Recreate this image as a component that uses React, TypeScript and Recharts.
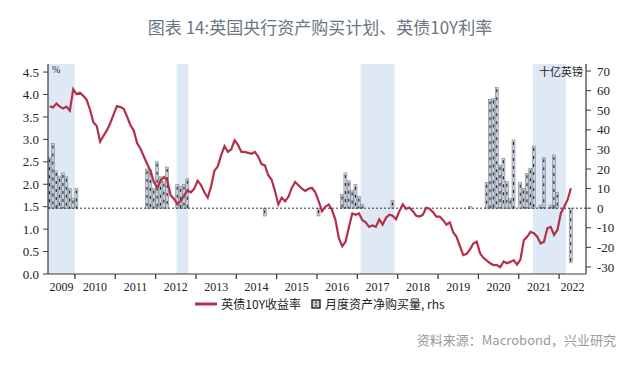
import React from "react";
import { ComposedChart, Line, Bar, XAxis, YAxis, ReferenceArea, ReferenceLine } from "recharts";

// ---- data ----
const startYear = 2009;
const startMonth = 5; // first month shown: May 2009

// UK 10Y gilt yield, monthly, May 2009 .. Apr 2022 (%)
const yields2009 = [3.74, 3.71, 3.8, 3.73, 3.69, 3.73, 3.64, 4.12];
const yields2010 = [4.01, 4.04, 3.97, 3.88, 3.66, 3.38, 3.3, 2.95, 3.08, 3.2, 3.36, 3.55];
const yields2011 = [3.74, 3.72, 3.68, 3.51, 3.32, 3.2, 2.92, 2.79, 2.62, 2.45, 2.3, 2.05];
const yields2012 = [1.92, 2.08, 2.16, 2.08, 1.75, 1.67, 1.56, 1.63, 1.75, 1.86, 1.82, 1.9];
const yields2013 = [2.08, 1.98, 1.82, 1.7, 1.95, 2.3, 2.4, 2.65, 2.85, 2.72, 2.78, 2.98];
const yields2014 = [2.88, 2.72, 2.72, 2.7, 2.68, 2.72, 2.62, 2.45, 2.42, 2.2, 2.1, 1.85];
const yields2015 = [1.55, 1.7, 1.62, 1.72, 1.92, 2.05, 1.98, 1.9, 1.85, 1.9, 1.92, 1.82];
const yields2016 = [1.62, 1.4, 1.5, 1.55, 1.42, 1.2, 0.8, 0.62, 0.72, 1.05, 1.35, 1.32];
const yields2017 = [1.35, 1.2, 1.15, 1.05, 1.08, 1.05, 1.22, 1.1, 1.25, 1.32, 1.3, 1.22];
const yields2018 = [1.4, 1.55, 1.45, 1.48, 1.4, 1.3, 1.28, 1.32, 1.48, 1.45, 1.38, 1.28];
const yields2019 = [1.28, 1.2, 1.1, 1.15, 0.93, 0.83, 0.62, 0.42, 0.45, 0.55, 0.68, 0.72];
const yields2020 = [0.46, 0.36, 0.3, 0.24, 0.2, 0.2, 0.15, 0.28, 0.24, 0.27, 0.31, 0.21];
const yields2021 = [0.32, 0.75, 0.83, 0.94, 0.91, 0.83, 0.68, 0.72, 1.02, 1.05, 0.87, 0.98];
const yields2022 = [1.35, 1.5, 1.65, 1.91];

// BoE monthly net asset purchases (GBP bn, rhs)
const purchaseMonths = [
  "2009-05", "2009-06", "2009-07", "2009-08", "2009-09", "2009-10", "2009-11", "2009-12", "2010-01",
  "2011-10", "2011-11", "2011-12", "2012-01", "2012-02", "2012-03", "2012-04",
  "2012-07", "2012-08", "2012-09", "2012-10",
  "2014-09", "2016-01",
  "2016-08", "2016-09", "2016-10", "2016-11", "2016-12", "2017-01", "2017-02", "2017-11",
  "2019-10",
  "2020-03", "2020-04", "2020-05", "2020-06", "2020-07", "2020-08", "2020-09", "2020-10", "2020-11",
  "2021-01", "2021-02", "2021-03", "2021-04", "2021-05", "2021-07", "2021-08", "2021-10", "2021-11", "2021-12",
  "2022-04",
];
const purchaseValues = [
  26, 33, 19, 16, 18, 16, 10, 5, 10,
  20, 19.5, 10, 23.7, 16, 13.5, 21,
  12, 11, 12, 15,
  -4, -4,
  7, 18, 14, 9, 12, 6, 2, 4,
  1,
  13, 55.6, 56, 61.7, 22, 25.5, 13.5, 5, 34.8,
  13, 10.1, 17.8, 20.4, 31.7, 1.6, 26, 1.6, 27.2, 7.9,
  -27.8,
];

const shadedPeriods: [number, number][] = [
  [2009.333, 2010.0],
  [2012.52, 2012.81],
  [2017.08, 2017.92],
  [2021.35, 2022.17],
];

const yearLabels = ["2009", "2010", "2011", "2012", "2013", "2014", "2015", "2016", "2017", "2018", "2019", "2020", "2021", "2022"];
const leftTicks = [0, 0.5, 1, 1.5, 2, 2.5, 3, 3.5, 4, 4.5];
const rightTicks = [-30, -20, -10, 0, 10, 20, 30, 40, 50, 60, 70];
const xDomain: [number, number] = [2009 + 4 / 12, 2022 + 8 / 12];
const leftDomain: [number, number] = [0, 4.68];
const rightDomain: [number, number] = [-33.6, 73.6];

const yields = [
  ...yields2009, ...yields2010, ...yields2011, ...yields2012, ...yields2013, ...yields2014, ...yields2015,
  ...yields2016, ...yields2017, ...yields2018, ...yields2019, ...yields2020, ...yields2021, ...yields2022,
];

const data = yields.map((v, i) => {
  const m = startMonth - 1 + i;
  const y = startYear + Math.floor(m / 12);
  const mo = (m % 12) + 1;
  const key = `${y}-${String(mo).padStart(2, "0")}`;
  const idx = purchaseMonths.indexOf(key);
  return { t: y + (mo - 0.5) / 12, yld: v, qe: idx >= 0 ? purchaseValues[idx] : null };
});

// year boundary ticks + mid-interval label positions
const tickMarks = yearLabels.slice(1).map((s) => Number(s));
const labelPos = yearLabels.map((s) => {
  const y = Number(s);
  const a = Math.max(y, xDomain[0]);
  const b = Math.min(y + 1, xDomain[1]);
  return (a + b) / 2;
});
const xTicks = [...tickMarks, ...labelPos].sort((a, b) => a - b);

const SERIF = "'Liberation Serif', 'Times New Roman', serif";
const CJK = "'Noto Sans CJK SC', 'Noto Sans', sans-serif";

const YearTick = (props: any) => {
  const { x, y, payload } = props;
  const v = payload.value as number;
  if (Number.isInteger(v)) {
    return <line x1={x} x2={x} y1={y} y2={y + 5} stroke="#3a3a3a" strokeWidth={1.3} />;
  }
  return (
    <text x={x} y={y + 17} textAnchor="middle" fontSize={12} fontFamily={SERIF} fill="#222">
      {Math.floor(v)}
    </text>
  );
};

const HatchBar = (props: any) => {
  const { x, y, width, height } = props;
  if (height == null || width == null || !isFinite(height) || height === 0) return null;
  const y0 = height < 0 ? y + height : y;
  const h = Math.abs(height);
  const cx = x + width / 2;
  return (
    <g>
      <rect x={x} y={y0} width={width} height={h} fill="#c8cfd8" stroke="#6a7381" strokeWidth={0.5} />
      <line x1={cx} x2={cx} y1={y0 + 2} y2={y0 + h} stroke="#1e2530" strokeWidth={1.1} strokeDasharray="3 5" />
    </g>
  );
};

export default function App() {
  return (
    <div style={{ position: "absolute", left: 0, top: 0, width: 640, height: 369, background: "#fff", overflow: "hidden" }}>
      <div
        style={{
          position: "absolute", left: 0, top: 15, width: 640, textAlign: "center",
          fontFamily: CJK, fontSize: 17, color: "#6b7684", lineHeight: "24px",
        }}
      >
        图表 14:英国央行资产购买计划、英债10Y利率
      </div>

      <div style={{ position: "absolute", left: 0, top: 0 }}>
        <ComposedChart
          width={640}
          height={300}
          data={data}
          margin={{ top: 64, right: 14, left: 8, bottom: 6 }}
        >
          {shadedPeriods.map(([a, b], i) => (
            <ReferenceArea key={i} x1={a} x2={b} yAxisId="left" fill="#dfe9f5" fillOpacity={1} stroke="none" ifOverflow="hidden" />
          ))}
          <XAxis
            dataKey="t"
            type="number"
            domain={xDomain}
            ticks={xTicks}
            interval={0}
            allowDataOverflow
            tick={<YearTick />}
            tickLine={false}
            tickSize={0}
            tickMargin={0}
            height={20}
            axisLine={{ stroke: "#3a3a3a", strokeWidth: 1.2 }}
          />
          <YAxis
            yAxisId="left"
            domain={leftDomain}
            ticks={leftTicks}
            interval={0}
            allowDataOverflow
            width={40}
            tickFormatter={(v: number) => v.toFixed(1)}
            tick={{ fontSize: 13, fontFamily: SERIF, fill: "#222" }}
            tickSize={5}
            tickMargin={4}
            tickLine={{ stroke: "#3a3a3a" }}
            axisLine={{ stroke: "#3a3a3a", strokeWidth: 1.2 }}
          />
          <YAxis
            yAxisId="right"
            orientation="right"
            domain={rightDomain}
            ticks={rightTicks}
            interval={0}
            allowDataOverflow
            width={40}
            tick={{ fontSize: 13, fontFamily: SERIF, fill: "#222" }}
            tickSize={5}
            tickMargin={6}
            tickLine={{ stroke: "#3a3a3a" }}
            axisLine={{ stroke: "#3a3a3a", strokeWidth: 1.2 }}
          />
          <ReferenceLine yAxisId="right" y={0} stroke="#333" strokeDasharray="2 2" strokeWidth={1} />
          <Bar yAxisId="right" dataKey="qe" barSize={3} shape={<HatchBar />} isAnimationActive={false} />
          <Line
            yAxisId="left"
            dataKey="yld"
            type="linear"
            stroke="#b3304a"
            strokeWidth={2.2}
            dot={false}
            isAnimationActive={false}
          />
        </ComposedChart>
      </div>

      <div style={{ position: "absolute", left: 52, top: 64, fontFamily: SERIF, fontSize: 10, color: "#222" }}>%</div>
      <div style={{ position: "absolute", right: 57, top: 63, fontFamily: CJK, fontSize: 11, color: "#222" }}>十亿英镑</div>

      <div
        style={{
          position: "absolute", left: 0, top: 296, width: 640, display: "flex", justifyContent: "center",
          alignItems: "center", fontFamily: CJK, fontSize: 12, color: "#222", lineHeight: "15px",
        }}
      >
        <svg width={22} height={8} style={{ marginRight: 4 }}>
          <line x1={0} x2={22} y1={4} y2={4} stroke="#b3304a" strokeWidth={3} />
        </svg>
        <span>英债10Y收益率</span>
        <svg width={10} height={10} style={{ marginLeft: 10, marginRight: 4 }}>
          <rect x={1} y={1} width={8} height={8} fill="#c8cfd8" stroke="#222" strokeWidth={1.4} />
          <line x1={5} x2={5} y1={2.5} y2={7.5} stroke="#222" strokeWidth={1.3} strokeDasharray="2 1.5" />
        </svg>
        <span>月度资产净购买量, rhs</span>
      </div>

      <div
        style={{
          position: "absolute", right: 24, top: 331, fontFamily: CJK, fontSize: 13, color: "#9a9a9a", lineHeight: "18px",
        }}
      >
        资料来源：Macrobond，兴业研究
      </div>
    </div>
  );
}
